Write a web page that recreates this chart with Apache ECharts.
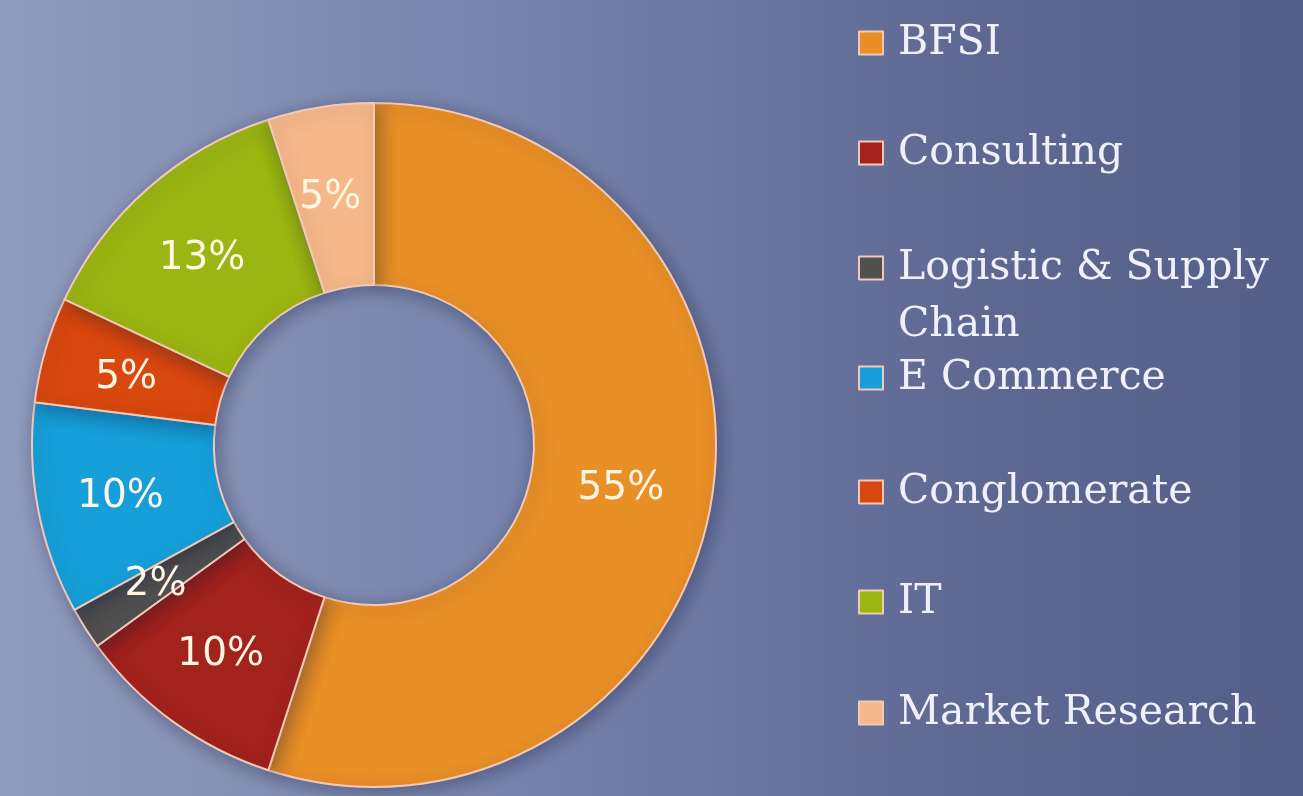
<!DOCTYPE html>
<html>
<head>
<meta charset="utf-8">
<script src="https://cdn.jsdelivr.net/npm/echarts@6/dist/echarts.min.js"></script>
<style>
  html, body { margin: 0; padding: 0; }
  #chart {
    width: 1303px;
    height: 796px;
    background: linear-gradient(90deg, #909bbd 0%, #7682aa 40%, #5e6993 75%, #535e89 100%);
  }
</style>
</head>
<body>
<div id="chart"></div>
<script>
const categories = ['BFSI', 'Consulting', 'Logistic & Supply Chain', 'E Commerce', 'Conglomerate', 'IT', 'Market Research'];
const shares = [55, 10, 2, 10, 5, 13, 5];
const colors = ['#e88f26', '#a2221c', '#505050', '#169fd8', '#d8470e', '#9bb512', '#f6b889'];

// vertical centre of each legend entry (first text line)
const legendCenters = [43, 153, 268, 378, 492, 602, 713];
const lineH = 57;
const WRAPPED = 'Logistic & Supply Chain';

const chart = echarts.init(document.getElementById('chart'));

const legends = categories.map((name, i) => {
  const wrapped = name === WRAPPED;
  return {
    data: [name],
    left: 858,
    top: legendCenters[i] - (wrapped ? lineH * 1.5 : lineH / 2),
    padding: 0,
    icon: 'rect',
    itemWidth: 24,
    itemHeight: 23,
    itemGap: 0,
    selectedMode: false,
    // blank first line keeps the icon beside the first text line
    formatter: n => (n === WRAPPED ? ' \nLogistic & Supply\nChain' : n),
    textStyle: {
      fontFamily: 'DejaVu Serif',
      fontSize: 41,
      color: '#eff0fa',
      lineHeight: lineH,
      padding: [0, 0, 0, 10]
    }
  };
});

chart.setOption({
  animation: false,
  legend: legends,
  series: [
    {
      type: 'pie',
      center: [374, 445],
      radius: [160, 342],
      startAngle: 90,
      clockwise: true,
      avoidLabelOverlap: false,
      itemStyle: {
        borderColor: '#f2c9b8',
        borderWidth: 2,
        shadowBlur: 18,
        shadowOffsetX: 3,
        shadowOffsetY: 4,
        shadowColor: 'rgba(20, 25, 60, 0.35)'
      },
      label: {
        position: 'inside',
        formatter: '{c}%',
        fontFamily: 'DejaVu Sans',
        fontSize: 39,
        color: '#fff6e4',
        offset: [-4, 4]
      },
      labelLine: { show: false },
      emphasis: { disabled: true },
      data: categories.map((name, i) => ({
        name: name,
        value: shares[i],
        itemStyle: { color: colors[i] }
      }))
    }
  ]
});
</script>
</body>
</html>
